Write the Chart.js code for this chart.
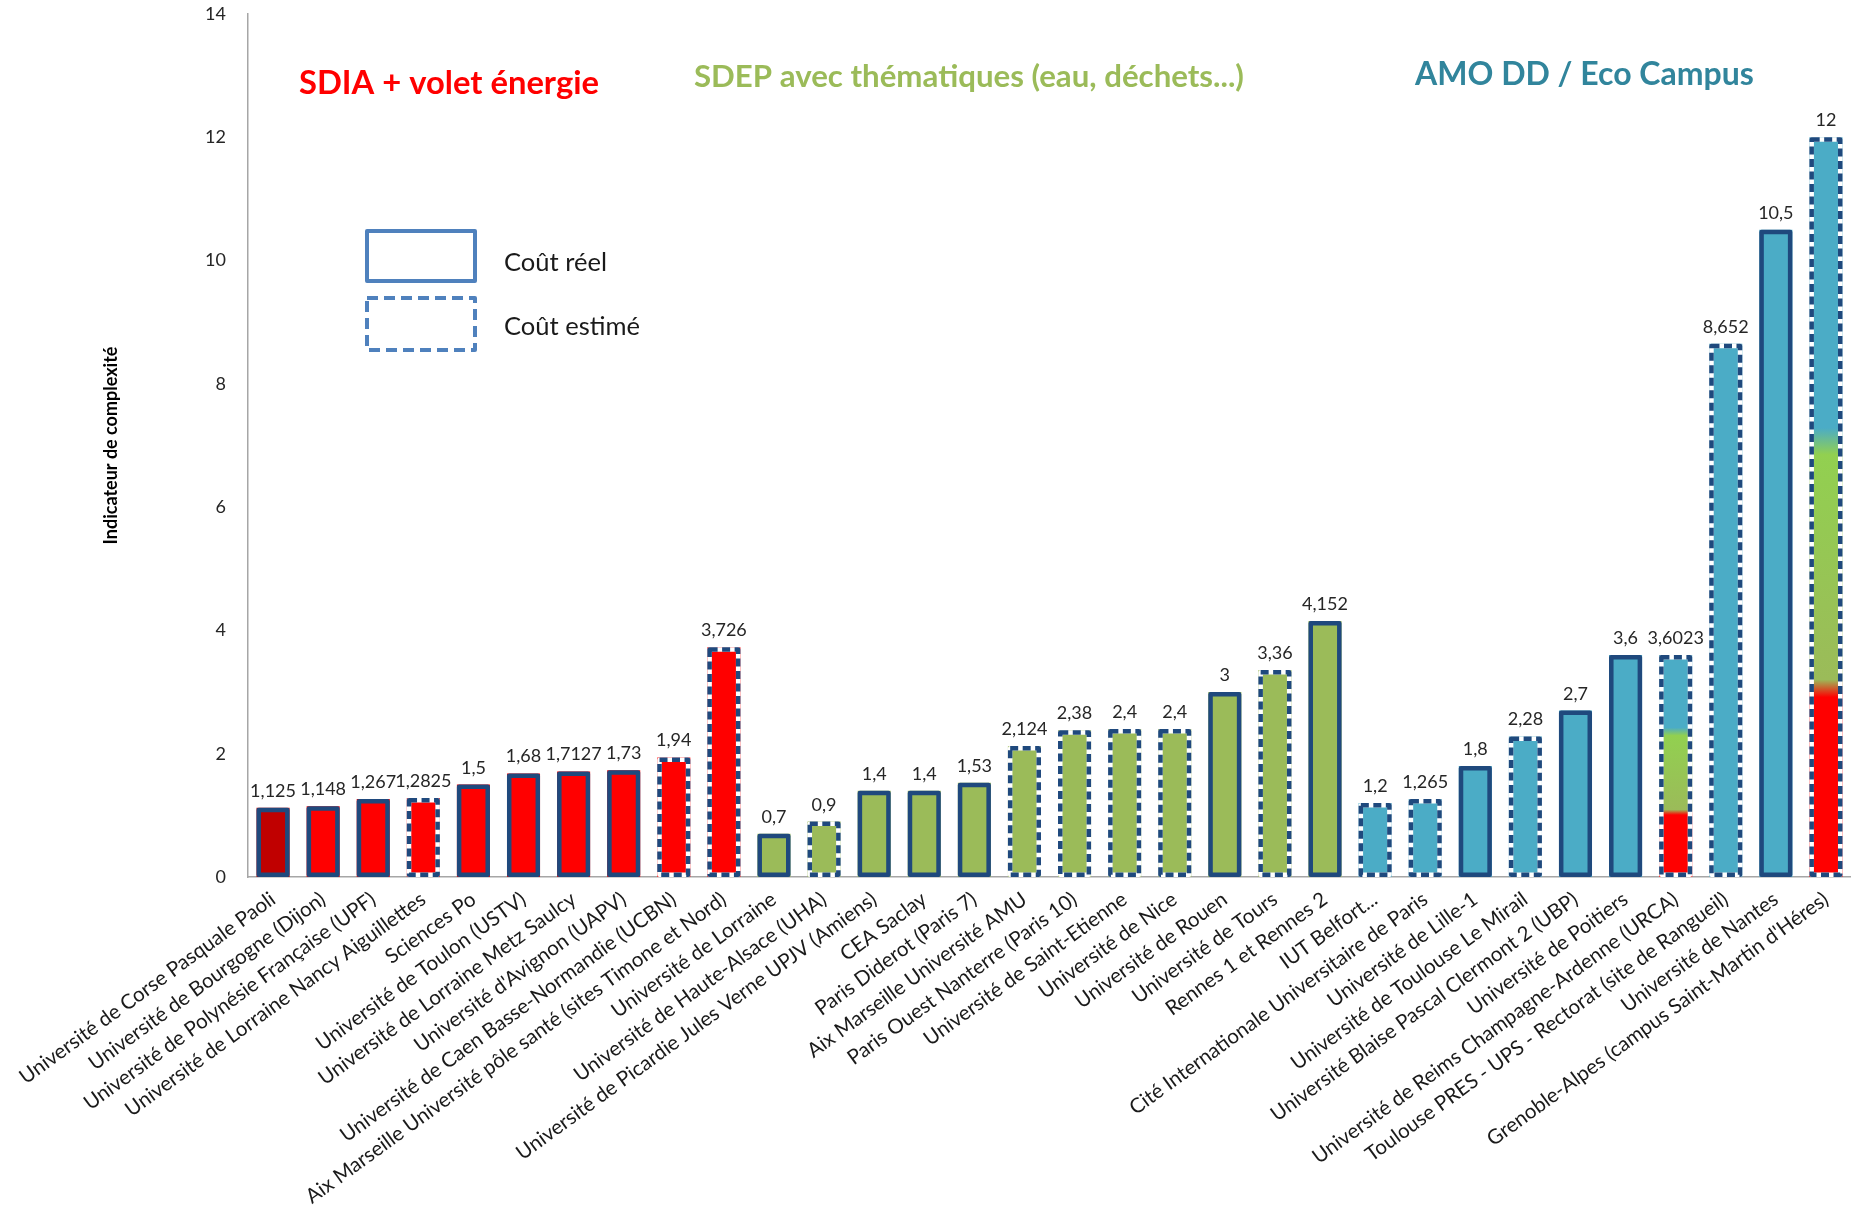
<!DOCTYPE html>
<html>
<head>
<meta charset="utf-8">
<script src="https://cdn.jsdelivr.net/npm/chart.js@4.4.1/dist/chart.umd.min.js"></script>
<style>
  html, body { margin: 0; padding: 0; background: #ffffff; }
  #wrap { width: 1851px; height: 1222px; position: relative; }
</style>
</head>
<body>
<div id="wrap"><canvas id="c" width="1851" height="1222"></canvas></div>
<script>
// ---------------- DATA ----------------
const categories = [
  "Université de Corse Pasquale Paoli",
  "Université de Bourgogne (Dijon)",
  "Université de Polynésie Française (UPF)",
  "Université de Lorraine Nancy Aiguillettes",
  "Sciences Po",
  "Université de Toulon (USTV)",
  "Université de Lorraine Metz Saulcy",
  "Université d'Avignon (UAPV)",
  "Université de Caen Basse-Normandie (UCBN)",
  "Aix Marseille Université pôle santé (sites Timone et Nord)",
  "Université de Lorraine",
  "Université de Haute-Alsace (UHA)",
  "Université de Picardie Jules Verne UPJV (Amiens)",
  "CEA Saclay",
  "Paris Diderot (Paris 7)",
  "Aix Marseille Université AMU",
  "Paris Ouest Nanterre (Paris 10)",
  "Université de Saint-Etienne",
  "Université de Nice",
  "Université de Rouen",
  "Université de Tours",
  "Rennes 1 et Rennes 2",
  "IUT Belfort...",
  "Cité Internationale Universitaire de Paris",
  "Université de Lille-1",
  "Université de Toulouse Le Mirail",
  "Université Blaise Pascal Clermont 2 (UBP)",
  "Université de Poitiers",
  "Université de Reims Champagne-Ardenne (URCA)",
  "Toulouse PRES - UPS - Rectorat (site de Rangueil)",
  "Université de Nantes",
  "Grenoble-Alpes (campus Saint-Martin d'Héres)"
];

const values = [1.125, 1.148, 1.267, 1.2825, 1.5, 1.68, 1.7127, 1.73, 1.94, 3.726,
                0.7, 0.9, 1.4, 1.4, 1.53, 2.124, 2.38, 2.4, 2.4, 3, 3.36, 4.152,
                1.2, 1.265, 1.8, 2.28, 2.7, 3.6, 3.6023, 8.652, 10.5, 12];

// true = coût estimé (dashed outline), false = coût réel (solid outline)
const estimated = [false, false, false, true, false, false, false, false, true, true,
                   false, true, false, false, false, true, true, true, true, false, true, false,
                   true, true, false, true, false, false, true, true, false, true];

// study family of each bar
const family = ["SDIA","SDIA","SDIA","SDIA","SDIA","SDIA","SDIA","SDIA","SDIA","SDIA",
                "SDEP","SDEP","SDEP","SDEP","SDEP","SDEP","SDEP","SDEP","SDEP","SDEP","SDEP","SDEP",
                "AMO","AMO","AMO","AMO","AMO","AMO","AMO","AMO","AMO","AMO"];

// mixed bars: upper limit of the "SDIA" part and of the "SDEP" part (null = not mixed)
const mixedRedTop   = [null,null,null,null,null,null,null,null,null,null,
                       null,null,null,null,null,null,null,null,null,null,null,null,
                       null,null,null,null,null,null,1.05,null,null,3.06];
const mixedGreenTop = [null,null,null,null,null,null,null,null,null,null,
                       null,null,null,null,null,null,null,null,null,null,null,null,
                       null,null,null,null,null,null,2.38,null,null,7.14];

const yTicks = [0, 2, 4, 6, 8, 10, 12, 14];

const groupTitles = ["SDIA + volet énergie", "SDEP avec thématiques (eau, déchets...)", "AMO DD / Eco Campus"];
const legendLabels = ["Coût réel", "Coût estimé"];
const axisTitle = "Indicateur de complexité";

// ---------------- STYLE ----------------
const COLORS = { SDIA: "#FF0000", SDEP: "#9BBB59", AMO: "#4BACC6" };
const FIRST_BAR_COLOR = "#C00000";
const BRIGHT_GREEN = "#92D050";
const BORDER = "#1F497D";
const AXIS = "#A6A6A6";
const FONT = "Lato, 'Open Sans', 'DejaVu Sans', sans-serif";

function fmt(v) { return String(v).replace('.', ','); }

function barFill(c) {
  const i = c.dataIndex;
  const chart = c.chart;
  if (i === 0) return FIRST_BAR_COLOR;
  const base = COLORS[family[i]];
  if (mixedRedTop[i] == null || !chart.chartArea) return base;
  const ys = chart.scales.y;
  const y0 = ys.getPixelForValue(0);
  const yT = ys.getPixelForValue(values[i]);
  const g = chart.ctx.createLinearGradient(0, y0, 0, yT);
  const f1 = mixedRedTop[i] / values[i];
  const f2 = mixedGreenTop[i] / values[i];
  const d = 0.012;
  g.addColorStop(0, COLORS.SDIA);
  g.addColorStop(Math.max(0, f1 - d), COLORS.SDIA);
  g.addColorStop(f1 + d, COLORS.SDEP);
  g.addColorStop(Math.max(f1 + d, f2 - 2 * d), BRIGHT_GREEN);
  g.addColorStop(f2 + d, COLORS.AMO);
  g.addColorStop(1, COLORS.AMO);
  return g;
}

// Outline, value labels, group titles and in-plot legend
const decorPlugin = {
  id: 'decor',
  afterDatasetsDraw(chart) {
    const ctx = chart.ctx;
    const meta = chart.getDatasetMeta(0);
    const lw = 4.5;
    meta.data.forEach((bar, i) => {
      const p = bar.getProps(['x', 'y', 'base', 'width'], true);
      const l = p.x - p.width / 2 + lw / 2;
      const r = p.x + p.width / 2 - lw / 2;
      const t = p.y + lw / 2;
      const b = p.base - lw / 2;
      ctx.save();
      ctx.lineWidth = lw;
      ctx.lineJoin = 'round';
      if (estimated[i]) {
        ctx.strokeStyle = '#ffffff';
        ctx.strokeRect(l, t, r - l, b - t);
        ctx.setLineDash([8, 4.5]);
        ctx.lineCap = 'butt';
      }
      ctx.strokeStyle = BORDER;
      ctx.strokeRect(l, t, r - l, b - t);
      ctx.restore();

      // value label
      ctx.save();
      ctx.font = "18px " + FONT;
      ctx.fillStyle = '#262626';
      ctx.textAlign = 'center';
      ctx.textBaseline = 'alphabetic';
      ctx.fillText(fmt(values[i]), p.x, p.y - 11);
      ctx.restore();
    });

    // group titles
    function fitText(text, weight, target, x, y, color) {
      ctx.save();
      ctx.font = weight + " 100px " + FONT;
      const w = ctx.measureText(text).width;
      const size = 100 * target / w;
      ctx.font = weight + " " + size.toFixed(2) + "px " + FONT;
      ctx.fillStyle = color;
      ctx.textAlign = 'left';
      ctx.textBaseline = 'middle';
      ctx.fillText(text, x, y);
      ctx.restore();
    }
    fitText(groupTitles[0], 'bold', 300, 299, 83, "#FF0000");
    fitText(groupTitles[1], 'bold', 550, 694, 77, "#9BBB59");
    fitText(groupTitles[2], 'bold', 339, 1415, 75, "#31859C");

    // in-plot legend
    ctx.save();
    ctx.strokeStyle = "#4F81BD";
    ctx.lineWidth = 4;
    ctx.lineJoin = 'round';
    ctx.strokeRect(367, 231, 108, 50);
    ctx.setLineDash([11, 6]);
    ctx.strokeRect(367, 298, 108, 52);
    ctx.restore();
    fitText(legendLabels[0], 'normal', 103, 504, 263, "#1a1a1a");
    fitText(legendLabels[1], 'normal', 136, 504, 327, "#1a1a1a");
  }
};

new Chart(document.getElementById('c'), {
  type: 'bar',
  data: {
    labels: categories,
    datasets: [{
      data: values,
      backgroundColor: barFill,
      borderWidth: 0,
      barPercentage: 0.66,
      categoryPercentage: 1.0
    }]
  },
  options: {
    responsive: false,
    animation: false,
    devicePixelRatio: 1,
    layout: { padding: { top: 14, left: 0, right: 0, bottom: 0 } },
    plugins: { legend: { display: false }, tooltip: { enabled: false } },
    scales: {
      x: {
        grid: { display: false, drawTicks: false },
        border: { display: true, color: AXIS, width: 1.5 },
        ticks: {
          autoSkip: false, minRotation: 36, maxRotation: 36, padding: 10,
          color: '#1a1a1a', font: { family: FONT, size: 20.5 }
        },
        afterFit(s) { s.height = 345; s.paddingLeft = 0; s.paddingRight = 0; }
      },
      y: {
        min: 0, max: 14,
        afterBuildTicks(s) { s.ticks = yTicks.map(v => ({ value: v })); },
        grid: { display: false, drawTicks: false },
        border: { display: true, color: AXIS, width: 1.5 },
        ticks: { padding: 22, color: '#262626', font: { family: FONT, size: 18 } },
        title: {
          display: true, text: axisTitle, color: '#000',
          font: { family: FONT, size: 18, weight: 'bold' },
          padding: { top: 100, bottom: 0 }
        },
        afterFit(s) { s.width = 248; s.paddingTop = 0; s.paddingBottom = 0; }
      }
    }
  },
  plugins: [decorPlugin]
});
</script>
</body>
</html>
